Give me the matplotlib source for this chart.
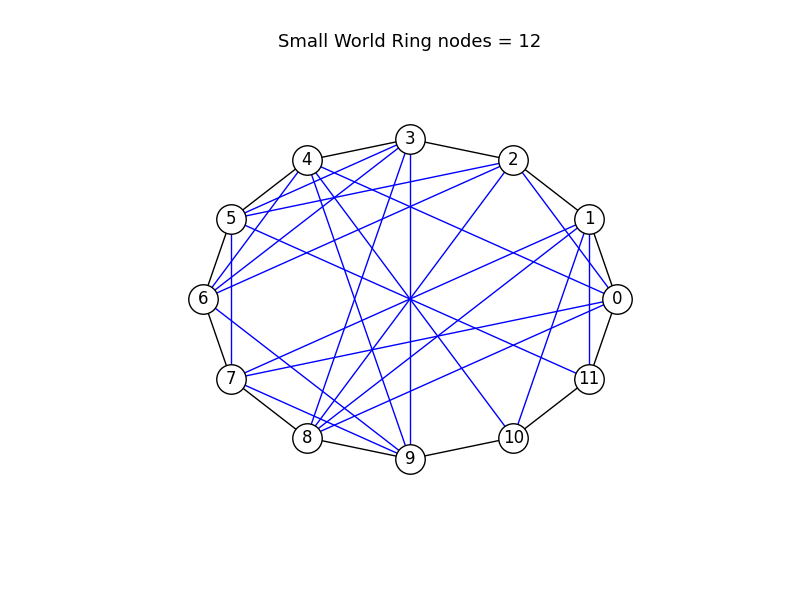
import numpy as np
import matplotlib
matplotlib.use("Agg")
import matplotlib.pyplot as plt

n_nodes = 12
ring_edges = [(i, (i + 1) % n_nodes) for i in range(n_nodes)]
extra_edges = [(5, 7), (1, 11), (3, 9), (3, 5), (3, 6), (3, 8),
               (4, 6), (4, 0), (4, 9), (4, 10), (2, 5), (2, 6), (2, 8), (2, 0),
               (1, 7), (1, 8), (1, 10), (0, 7), (0, 8), (5, 11), (6, 9), (7, 9)]

ang = np.arange(n_nodes) * 2 * np.pi / n_nodes
xs, ys = np.cos(ang), np.sin(ang)

fig, ax = plt.subplots(figsize=(8, 6), dpi=100)
for a, b in ring_edges:
    ax.plot([xs[a], xs[b]], [ys[a], ys[b]], color='k', lw=1, zorder=1)
for a, b in extra_edges:
    ax.plot([xs[a], xs[b]], [ys[a], ys[b]], color='b', lw=1, zorder=2)
ax.scatter(xs, ys, s=450, facecolor='white', edgecolor='k', zorder=3)
for i in range(n_nodes):
    ax.text(xs[i], ys[i], str(i), ha='center', va='center', fontsize=12, zorder=4)

ax.set_xlim(-1.5, 1.5)
ax.set_ylim(-1.469, 1.419)
ax.axis('off')
ax.set_title("Small World Ring nodes = 12", fontsize=13, pad=18)
plt.savefig("out.png")
